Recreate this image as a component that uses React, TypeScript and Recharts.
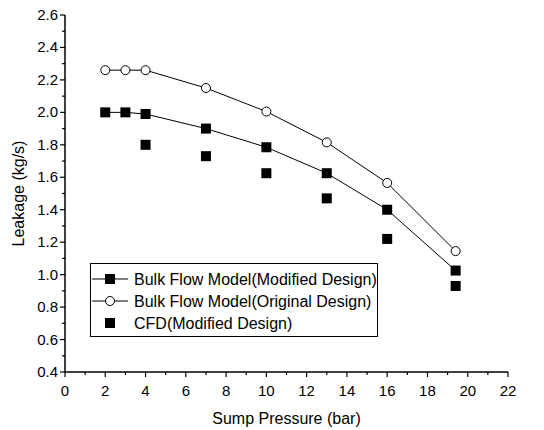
import React from "react";
import {
  ScatterChart,
  Scatter,
  XAxis,
  YAxis,
} from "recharts";

const pressure = [2, 3, 4, 7, 10, 13, 16, 19.4];
const modifiedBulk = [2.0, 2.0, 1.99, 1.9, 1.785, 1.625, 1.4, 1.025];
const originalBulk = [2.26, 2.26, 2.26, 2.15, 2.005, 1.815, 1.565, 1.145];
const cfdPressure = [4, 7, 10, 13, 16, 19.4];
const cfdModified = [1.8, 1.73, 1.625, 1.47, 1.22, 0.93];

const legendNames = [
  "Bulk Flow Model(Modified Design)",
  "Bulk Flow Model(Original Design)",
  "CFD(Modified Design)",
];

const xTicks = [0, 1, 2, 3, 4, 5, 6, 7, 8, 9, 10, 11, 12, 13, 14, 15, 16, 17, 18, 19, 20, 21, 22];
const yTicks = [
  0.4, 0.5, 0.6, 0.7, 0.8, 0.9, 1.0, 1.1, 1.2, 1.3, 1.4, 1.5, 1.6, 1.7, 1.8,
  1.9, 2.0, 2.1, 2.2, 2.3, 2.4, 2.5, 2.6,
];

const FONT = "'Liberation Sans', Arial, sans-serif";

const toPoints = (xs: number[], ys: number[]) => xs.map((x, i) => ({ x, y: ys[i] }));

const SquareMark = (props: any) => {
  const { cx, cy } = props;
  if (cx == null || cy == null) return null;
  return <rect x={cx - 5} y={cy - 5} width={10} height={10} fill="#000" />;
};

const CircleMark = (props: any) => {
  const { cx, cy } = props;
  if (cx == null || cy == null) return null;
  return <circle cx={cx} cy={cy} r={4.5} fill="#fff" stroke="#000" strokeWidth={1} />;
};

const XTick = ({ x, y, payload }: any) => {
  const v = payload.value;
  const major = v % 2 === 0;
  return (
    <g>
      <line x1={x} x2={x} y1={y} y2={y + (major ? 5 : 3)} stroke="#000" strokeWidth={1.2} />
      {major && (
        <text x={x} y={y + 24} textAnchor="middle" fontSize={15} fontFamily={FONT} fill="#000">
          {v}
        </text>
      )}
    </g>
  );
};

const YTick = ({ x, y, payload }: any) => {
  const v = payload.value;
  const major = Math.round(v * 10) % 2 === 0;
  return (
    <g>
      <line x1={x} x2={x - (major ? 5 : 3)} y1={y} y2={y} stroke="#000" strokeWidth={1.2} />
      {major && (
        <text x={x - 7} y={y + 5} textAnchor="end" fontSize={15} fontFamily={FONT} fill="#000">
          {v.toFixed(1)}
        </text>
      )}
    </g>
  );
};

// legend box drawn over the plot, like the original figure
const LegendBox = () => (
  <svg
    width={288}
    height={74}
    style={{ position: "absolute", left: 90, top: 263, background: "#fff" }}
  >
    <rect x={0.5} y={0.5} width={287} height={73} fill="#fff" stroke="#000" strokeWidth={1} />
    <line x1={2} x2={38} y1={16} y2={16} stroke="#000" />
    <rect x={15} y={11} width={10} height={10} fill="#000" />
    <line x1={2} x2={38} y1={38} y2={38} stroke="#000" />
    <circle cx={20} cy={38} r={4.5} fill="#fff" stroke="#000" />
    <rect x={15} y={55} width={10} height={10} fill="#000" />
    {legendNames.map((name, i) => (
      <text key={name} x={44} y={22 + i * 22} fontSize={16} fontFamily={FONT} fill="#000">
        {name}
      </text>
    ))}
  </svg>
);

export default function App() {
  return (
    <div style={{ position: "absolute", left: 0, top: 0, width: 544, height: 430, background: "#fff" }}>
      <ScatterChart
        width={544}
        height={430}
        margin={{ top: 15, right: 36, bottom: 0, left: 0 }}
      >
        <XAxis
          type="number"
          dataKey="x"
          domain={[0, 22]}
          ticks={xTicks}
          interval={0}
          height={58}
          tickSize={0}
          tickMargin={0}
          tickLine={false}
          tick={<XTick />}
          axisLine={{ stroke: "#000", strokeWidth: 1.5 }}
          label={{
            value: "Sump Pressure (bar)",
            position: "insideBottom",
            offset: 6,
            fontSize: 16,
            fontFamily: FONT,
            fill: "#000",
          }}
        />
        <YAxis
          type="number"
          dataKey="y"
          domain={[0.4, 2.6]}
          ticks={yTicks}
          interval={0}
          width={65}
          tickSize={0}
          tickMargin={0}
          tickLine={false}
          tick={<YTick />}
          axisLine={{ stroke: "#000", strokeWidth: 1.5 }}
          label={{
            value: "Leakage (kg/s)",
            angle: -90,
            position: "insideLeft",
            offset: 18,
            fontSize: 16,
            fontFamily: FONT,
            fill: "#000",
            style: { textAnchor: "middle" },
          }}
        />
        <Scatter
          name={legendNames[0]}
          data={toPoints(pressure, modifiedBulk)}
          line={{ stroke: "#000", strokeWidth: 1 }}
          lineType="joint"
          shape={<SquareMark />}
          isAnimationActive={false}
        />
        <Scatter
          name={legendNames[1]}
          data={toPoints(pressure, originalBulk)}
          line={{ stroke: "#000", strokeWidth: 1 }}
          lineType="joint"
          shape={<CircleMark />}
          isAnimationActive={false}
        />
        <Scatter
          name={legendNames[2]}
          data={toPoints(cfdPressure, cfdModified)}
          shape={<SquareMark />}
          isAnimationActive={false}
        />
      </ScatterChart>
      <LegendBox />
    </div>
  );
}
